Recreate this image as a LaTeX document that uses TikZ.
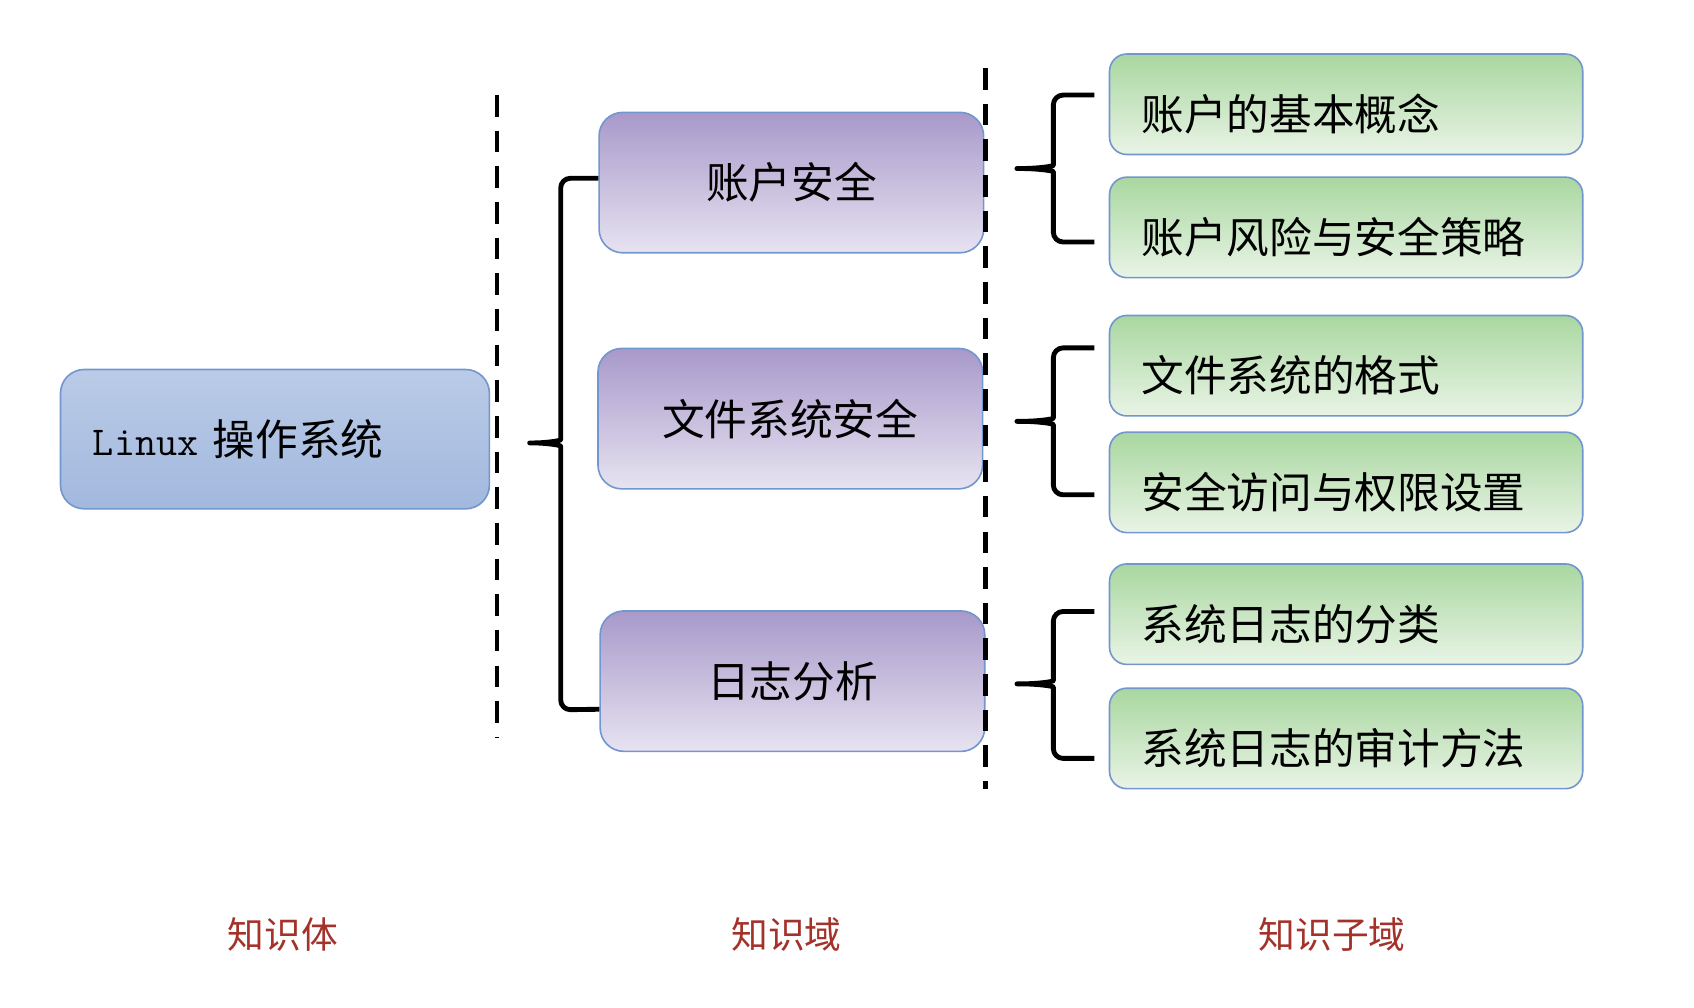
\documentclass[tikz,border=0pt]{standalone}
\usepackage{fontspec}
\setmainfont{Noto Sans CJK SC}
\usetikzlibrary{calc}
\definecolor{bordblue}{HTML}{7396CF}
\definecolor{rttop}{HTML}{BACBE7}
\definecolor{rtbot}{HTML}{A2B8DE}
\definecolor{purtop}{HTML}{A899CA}
\definecolor{purbot}{HTML}{E7E3F1}
\definecolor{grtop}{HTML}{A9D7A0}
\definecolor{grbot}{HTML}{E9F4E6}
\definecolor{lblred}{HTML}{A3322A}
\tikzset{
  rootbox/.style={draw=bordblue, line width=1.5pt, rounded corners=22pt,
    top color=rttop, bottom color=rtbot, minimum height=129pt,
    text width=337pt, inner xsep=30pt, align=left,
    font=\fontsize{39.5}{44}\selectfont},
  dombox/.style={draw=bordblue, line width=1.5pt, rounded corners=22pt,
    top color=purtop, bottom color=purbot, minimum width=356pt,
    minimum height=130pt, font=\fontsize{39.5}{44}\selectfont},
  subbox/.style={draw=bordblue, line width=1.5pt, rounded corners=16pt,
    top color=grtop, bottom color=grbot, minimum width=438pt,
    minimum height=93pt},
  subtext/.style={anchor=west, inner sep=0pt, font=\fontsize{39.5}{44}\selectfont},
  lvlabel/.style={text=lblred, font=\fontsize{34}{38}\selectfont},
  sepline/.style={line width=4.5pt, dash pattern=on 20pt off 13pt},
  bracket/.style={line width=4.5pt, line join=round, rounded corners=9pt},
}
\begin{document}
\begin{tikzpicture}[x=1pt,y=-1pt]
\useasboundingbox (0,0) rectangle (1568,933);

% root
\node[rootbox] (root) at (254.5,406.5) {{\fontsize{38}{40}\ttfamily\selectfont Linux} 操作系统};

% domains
\node[dombox] (a1) at (732.5,169) {账户安全};
\node[dombox] (a2) at (731.5,387.5) {文件系统安全};
\node[dombox] (a3) at (733.5,630.5) {日志分析};

% sub-domains
\node[subbox] (g1) at (1246,96.5) {};
\node[subbox] (g2) at (1246,210.5) {};
\node[subbox] (g3) at (1246,338.5) {};
\node[subbox] (g4) at (1246,446.5) {};
\node[subbox] (g5) at (1246,568.5) {};
\node[subbox] (g6) at (1246,683.5) {};
\node[subtext] (t1) at ($(g1.west)+(30,9)$) {账户的基本概念};
\node[subtext] (t2) at ($(g2.west)+(30,9)$) {账户风险与安全策略};
\node[subtext] (t3) at ($(g3.west)+(30,9)$) {文件系统的格式};
\node[subtext] (t4) at ($(g4.west)+(30,9)$) {安全访问与权限设置};
\node[subtext] (t5) at ($(g5.west)+(30,9)$) {系统日志的分类};
\node[subtext] (t6) at ($(g6.west)+(30,9)$) {系统日志的审计方法};

% left bracket
\coordinate (ltip) at (485,410);
\coordinate (lt) at ($(a1.west)+(0,-4)$);
\coordinate (lb) at ($(a3.west)+(0,26)$);
\draw[bracket] (lt) -- (519,165) -- (519,398)
  .. controls (519,408) and (505,410) .. (ltip)
  .. controls (505,410) and (519,412) .. (519,422) -- (519,657) -- (lb);

% right brackets
\foreach \tipy/\topy/\boty/\n in {156/88/224/1, 390/322/458/2, 633/566/702/3}{
  \coordinate (rtip\n) at (936,\tipy);
  \coordinate (rt\n) at (1013,\topy);
  \coordinate (rb\n) at (1013,\boty);
  \draw[bracket] (rt\n) -- (975,\topy) -- (975,\tipy-12)
    .. controls (975,\tipy-2) and (960,\tipy) .. (rtip\n)
    .. controls (960,\tipy) and (975,\tipy+2) .. (975,\tipy+12)
    -- (975,\boty) -- (rb\n);
}

% separators
\coordinate (s1t) at (460,88);
\coordinate (s1b) at (460,683);
\coordinate (s2t) at (912,63);
\coordinate (s2b) at (912,730);
\draw[sepline] (s1t) -- (s1b);
\draw[sepline] (s2t) -- (s2b);

% level labels
\node[lvlabel] (l1) at (262,865) {知识体};
\node[lvlabel] (l2) at (728,865) {知识域};
\node[lvlabel] (l3) at (1233,865) {知识子域};
\end{tikzpicture}
\end{document}
